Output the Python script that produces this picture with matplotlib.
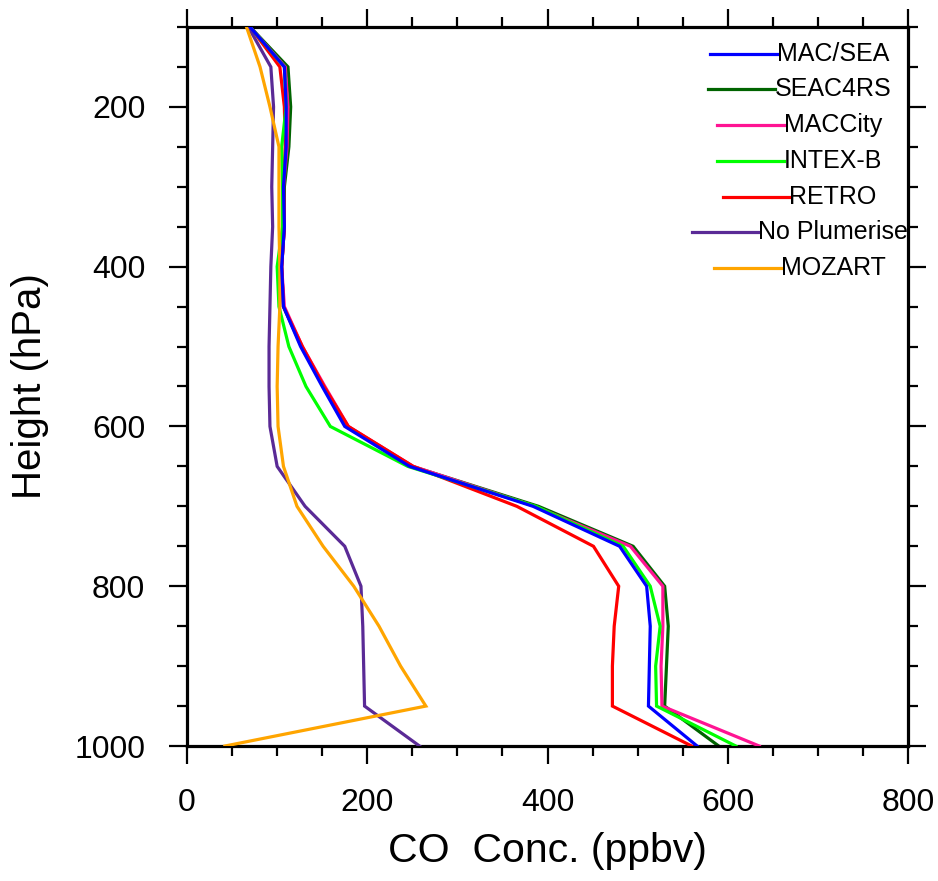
import numpy as np
import matplotlib
matplotlib.use("Agg")
import matplotlib.pyplot as plt
from matplotlib.lines import Line2D
from matplotlib.offsetbox import (AnchoredOffsetbox, DrawingArea, HPacker,
                                  TextArea, VPacker)

plt.rcParams["font.family"] = ["Liberation Sans", "DejaVu Sans"]

# pressure levels [hPa]
levels = [100, 150, 200, 250, 300, 350, 400, 450, 500, 550,
          600, 650, 700, 750, 800, 850, 900, 950, 1000]

# CO profiles [ppbv], one per emission inventory / run
mac_sea = [70, 108, 110, 110, 107, 108, 105, 107, 126, 150,
           175, 247, 384, 480, 510, 514, 513, 512, 566]
seac4rs = [70, 112, 115, 113, 108, 108, 105, 107, 127, 152,
           178, 250, 390, 495, 530, 534, 532, 530, 590]
maccity = [70, 109, 112, 111, 107, 108, 105, 108, 128, 153,
           179, 251, 386, 492, 528, 528, 526, 527, 635]
intex_b = [70, 108, 110, 105, 106, 106, 100, 102, 113, 132,
           159, 245, 387, 484, 514, 525, 520, 521, 609]
retro = [70, 103, 108, 109, 107, 108, 105, 107, 128, 152,
         179, 251, 366, 451, 479, 474, 472, 472, 560]
no_plumerise = [68, 93, 96, 95, 94, 95, 93, 92, 91, 91,
                92, 100, 131, 175, 193, 195, 196, 197, 258]
mozart = [66, 81, 92, 102, 102, 102, 103, 103, 101, 100,
          101, 107, 122, 151, 185, 213, 237, 265, 42]

names = ["MAC/SEA", "SEAC4RS", "MACCity", "INTEX-B", "RETRO",
         "No Plumerise", "MOZART"]
colors = ["#0000ff", "#006400", "#ff1493", "#00ff00", "#ff0000",
          "#5a2a96", "#ffa500"]
profiles = [mac_sea, seac4rs, maccity, intex_b, retro, no_plumerise, mozart]

fig = plt.figure(figsize=(9.38, 8.81), dpi=100)
ax = fig.add_axes([0.1994, 0.1532, 0.7686, 0.8162])

# blue on top, like the original plotting order
order = [1, 2, 4, 3, 5, 6, 0]
for i in order:
    ax.plot(profiles[i], levels, color=colors[i], lw=2.3,
            solid_joinstyle="miter", zorder=2 + order.index(i))

ax.set_xlim(0, 800)
ax.set_ylim(1000, 100)
ax.set_xticks(np.arange(0, 801, 200))
ax.set_xticks(np.arange(0, 801, 50), minor=True)
ax.set_yticks(np.arange(200, 1001, 200))
ax.set_yticks(np.arange(100, 1001, 50), minor=True)

for s in ax.spines.values():
    s.set_linewidth(2.3)
ax.tick_params(which="both", direction="out", top=True, right=True,
               labelsize=23, width=1.6)
ax.tick_params(which="major", length=13, pad=17)
ax.tick_params(which="minor", length=7.5)

ax.set_xlabel("CO  Conc. (ppbv)", fontsize=29.5, va="center")
ax.xaxis.set_label_coords(0.5, -0.146)
ax.set_ylabel("Height (hPa)", fontsize=29, va="center")
ax.yaxis.set_label_coords(-0.218, 0.5)

# legend: line then label, each entry centred on the same x
rows = []
for name, c in zip(names, colors):
    da = DrawingArea(48, 20, 0, 0)
    da.add_artist(Line2D([0, 48], [10, 10], color=c, lw=2.3))
    ta = TextArea(name, textprops=dict(fontsize=18))
    rows.append(HPacker(children=[da, ta], align="center", pad=0, sep=0))
box = VPacker(children=rows, align="center", pad=0, sep=5.7)
anch = AnchoredOffsetbox(loc="upper center", child=box, pad=0, borderpad=0,
                         frameon=False, bbox_to_anchor=(0.85, 0.982),
                         bbox_transform=ax.transAxes)
ax.add_artist(anch)

fig.savefig("out.png", dpi=100)
